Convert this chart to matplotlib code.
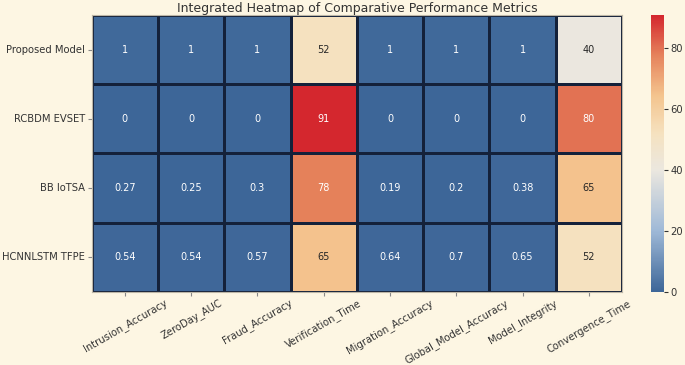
import numpy as np
import pandas as pd
import matplotlib
matplotlib.use("Agg")
import matplotlib.pyplot as plt
from matplotlib.colors import LinearSegmentedColormap
import seaborn as sns

# models and metrics
models = ["Proposed Model", "RCBDM EVSET", "BB IoTSA", "HCNNLSTM TFPE"]
metrics = ["Intrusion_Accuracy", "ZeroDay_AUC", "Fraud_Accuracy", "Verification_Time",
           "Migration_Accuracy", "Global_Model_Accuracy", "Model_Integrity", "Convergence_Time"]

proposed = [1, 1, 1, 52, 1, 1, 1, 40]
rcbdm = [0, 0, 0, 91, 0, 0, 0, 80]
bb_iotsa = [0.27, 0.25, 0.3, 78, 0.19, 0.2, 0.38, 65]
hcnnlstm = [0.54, 0.54, 0.57, 65, 0.64, 0.7, 0.65, 52]

data = pd.DataFrame([proposed, rcbdm, bb_iotsa, hcnnlstm], index=models, columns=metrics)

# blue -> cream -> red, roughly like the original
cmap = LinearSegmentedColormap.from_list("blue_cream_red", [
    (0.0, "#3d6698"),
    (0.22, "#9fb9d7"),
    (0.44, "#ebe7df"),
    (0.57, "#f5e2c0"),
    (0.71, "#f4c48e"),
    (0.86, "#e5805a"),
    (1.0, "#d4272e"),
])

plt.style.use("Solarize_Light2")
fig = plt.figure(figsize=(6.85, 3.65), dpi=100)
ax = fig.add_axes([0.134, 0.2, 0.774, 0.759])
cax = fig.add_axes([0.951, 0.2, 0.019, 0.759])

sns.heatmap(data, ax=ax, cbar_ax=cax, cmap=cmap, vmin=0, vmax=91, annot=True, fmt="g",
            linewidths=1.0, linecolor="#14213a", annot_kws={"fontsize": 7})

for side in ["top", "right", "left", "bottom"]:
    ax.spines[side].set_visible(True)
    ax.spines[side].set_color("#bdb6a6")
    ax.spines[side].set_linewidth(0.8)
cax.spines[:].set_visible(False)

ax.set_title("Integrated Heatmap of Comparative Performance Metrics", fontsize=9, color="#333333", pad=2)
ax.set_xticklabels(metrics, rotation=30, fontsize=7.2, color="#333333")
ax.set_yticklabels(models, rotation=0, fontsize=7.2, color="#333333")
ax.tick_params(axis="x", length=3, pad=1, color="#888888")
ax.tick_params(axis="y", length=3, pad=2, color="#888888")
cax.tick_params(labelsize=7.2, length=3, pad=1.5, colors="#333333")
ax.grid(False)

fig.savefig("out.png", dpi=100, facecolor=fig.get_facecolor())
